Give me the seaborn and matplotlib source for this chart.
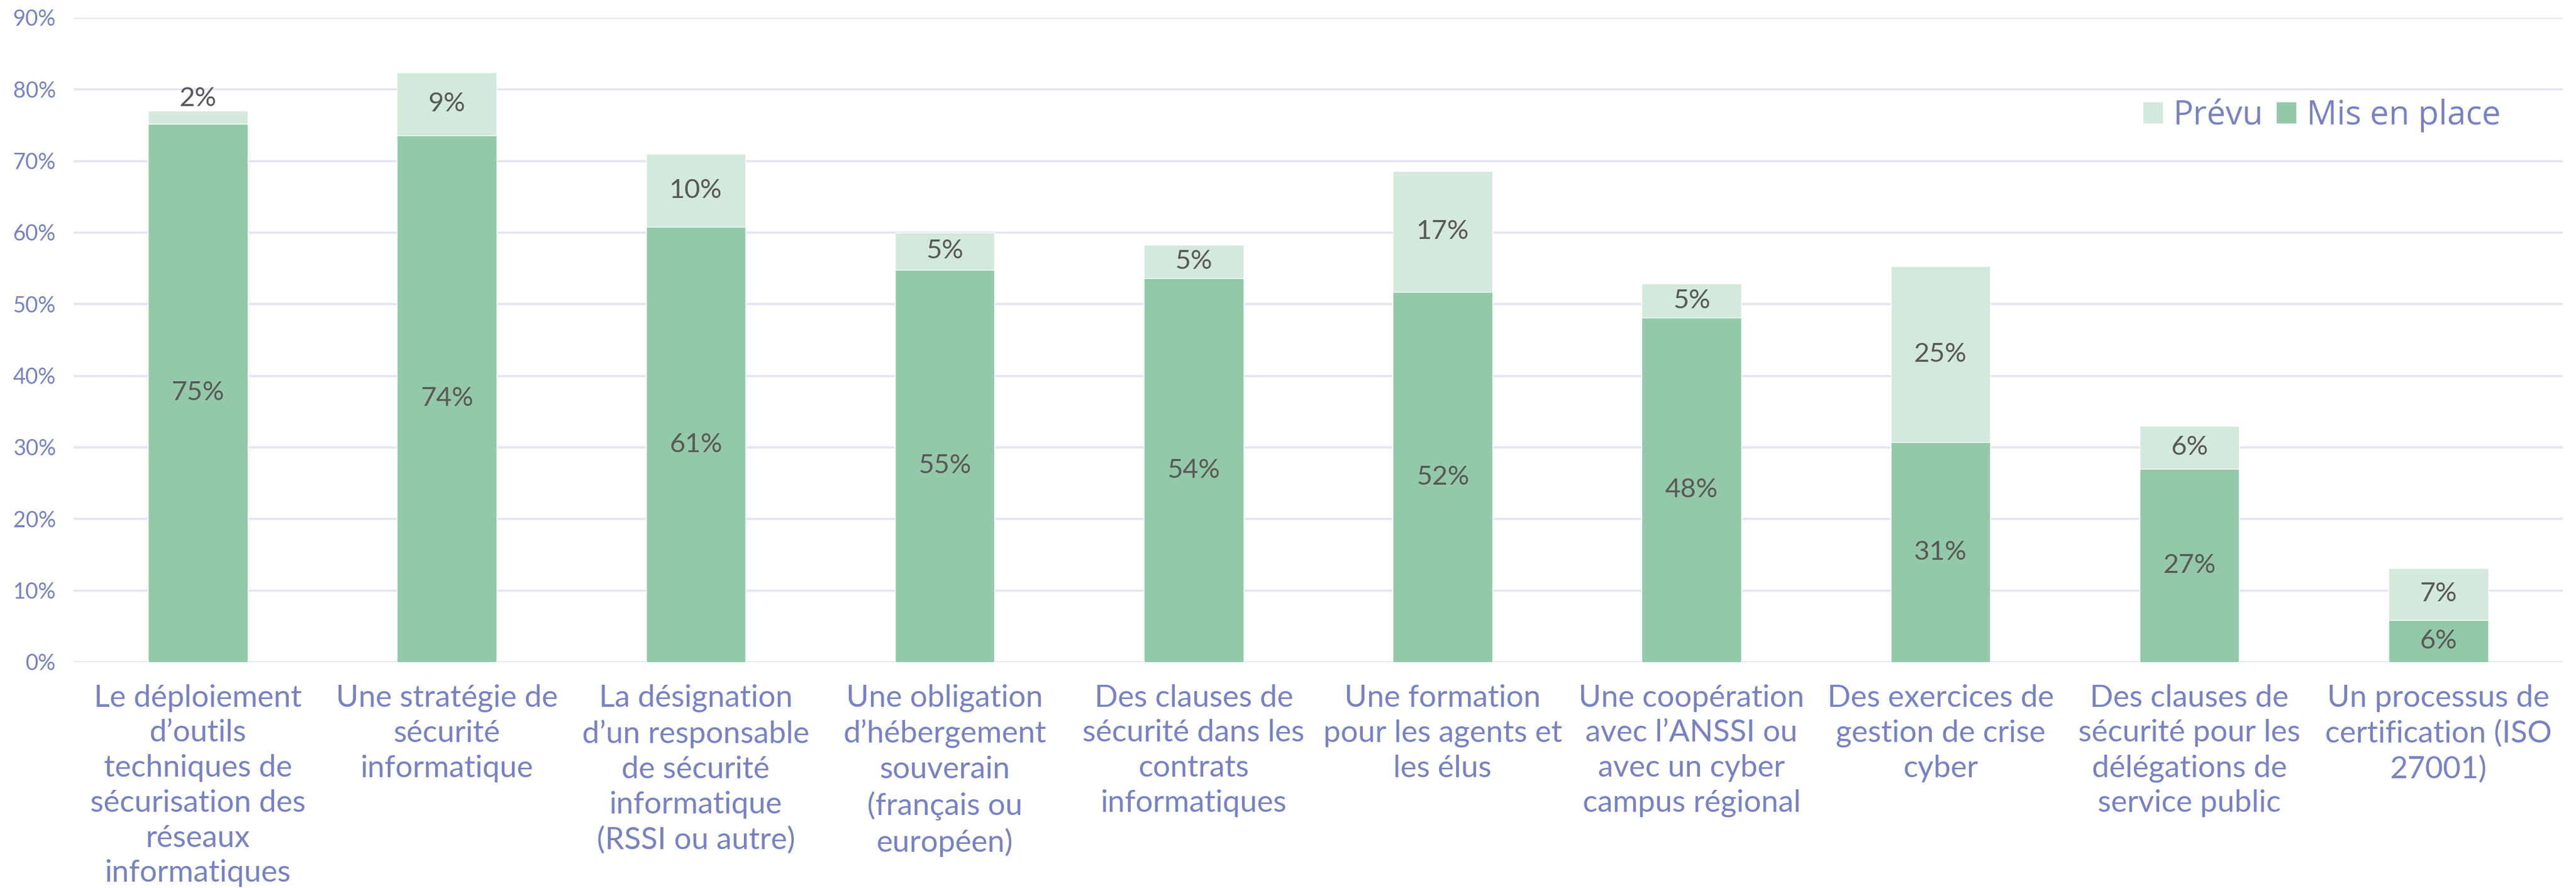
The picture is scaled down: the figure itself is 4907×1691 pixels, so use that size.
import pandas as pd
import matplotlib
matplotlib.use("Agg")
import matplotlib.pyplot as plt
import seaborn as sns
from matplotlib.patches import Patch
from matplotlib.ticker import PercentFormatter

categories = [
    "Le déploiement\nd’outils\ntechniques de\nsécurisation des\nréseaux\ninformatiques",
    "Une stratégie de\nsécurité\ninformatique",
    "La désignation\nd’un responsable\nde sécurité\ninformatique\n(RSSI ou autre)",
    "Une obligation\nd’hébergement\nsouverain\n(français ou\neuropéen)",
    "Des clauses de\nsécurité dans les\ncontrats\ninformatiques",
    "Une formation\npour les agents et\nles élus",
    "Une coopération\navec l’ANSSI ou\navec un cyber\ncampus régional",
    "Des exercices de\ngestion de crise\ncyber",
    "Des clauses de\nsécurité pour les\ndélégations de\nservice public",
    "Un processus de\ncertification (ISO\n27001)",
]
mis_en_place = [75.2, 73.6, 60.8, 54.8, 53.6, 51.7, 48.1, 30.7, 27.0, 5.9]
prevu = [1.8, 8.8, 10.2, 5.2, 4.7, 16.9, 4.8, 24.6, 6.0, 7.2]

dark = "#93C9A8"
light = "#D3E9DC"
blue = "#7782C4"
grey = "#595959"

df = pd.DataFrame({"cat": categories, "mis": mis_en_place, "prevu": prevu})
df["total"] = df["mis"] + df["prevu"]

sns.set_style("white")
plt.rcParams["font.family"] = ["Lato", "DejaVu Sans"]

fig = plt.figure(figsize=(49.07, 16.91), dpi=100)
ax = fig.add_axes([0.0285, 0.2543, 0.9664, 0.7256])

sns.barplot(data=df, x="cat", y="total", color=light, width=0.4,
            saturation=1, ax=ax, zorder=2)
sns.barplot(data=df, x="cat", y="mis", color=dark, width=0.4,
            saturation=1, ax=ax, zorder=3)

for i, row in df.iterrows():
    ax.text(i, row["mis"] / 2, f"{row['mis']:.0f}%", ha="center", va="center",
            fontsize=37, color=grey, zorder=4)
    if row["prevu"] < 3:
        y = row["total"] + 1.7
    else:
        y = row["mis"] + row["prevu"] / 2
    ax.text(i, y, f"{row['prevu']:.0f}%", ha="center", va="center",
            fontsize=37, color=grey, zorder=4)

ax.set_ylim(0, 90)
ax.set_xlim(-0.5, len(categories) - 0.5)
ax.set_yticks(range(0, 91, 10))
ax.yaxis.set_major_formatter(PercentFormatter(decimals=0))
ax.grid(axis="y", color="#E3E5F3", linewidth=3, zorder=0)
ax.set_axisbelow(True)
for s in ax.spines.values():
    s.set_visible(False)
ax.set_xlabel("")
ax.set_ylabel("")
ax.tick_params(axis="y", labelsize=30, labelcolor=blue, length=0, pad=24)
ax.tick_params(axis="x", labelsize=42, labelcolor=blue, length=0, pad=30)
for lab in ax.get_xticklabels():
    lab.set_linespacing(1.32)

handles = [Patch(color=light, label="Prévu"), Patch(color=dark, label="Mis en place")]
ax.legend(handles=handles, loc="center right", bbox_to_anchor=(0.975, 0.848),
          ncol=2, frameon=False, labelcolor=blue, borderaxespad=0, borderpad=0,
          handlelength=0.56, handleheight=0.56, handletextpad=0.33, columnspacing=0.4,
          prop={"family": ["Open Sans", "DejaVu Sans"], "size": 46})

fig.savefig("out.png", dpi=100)
